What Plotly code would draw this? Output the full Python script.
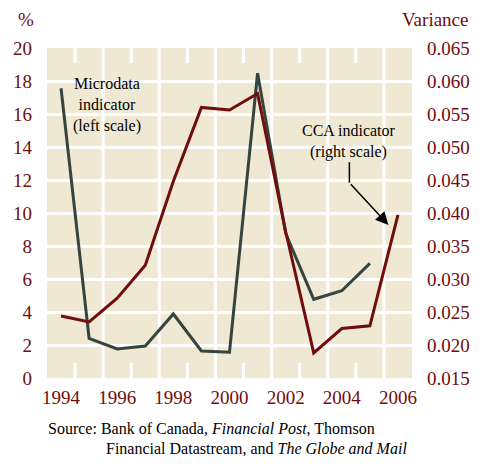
import plotly.graph_objects as go

# years and values
years = [1994, 1995, 1996, 1997, 1998, 1999, 2000, 2001, 2002, 2003, 2004, 2005, 2006]
microdata = [17.56, 2.40, 1.76, 1.94, 3.88, 1.64, 1.56, 18.47, 8.77, 4.77, 5.29, 6.95, None]
cca = [0.0244, 0.0235, 0.0271, 0.0321, 0.0448, 0.0560, 0.0556, 0.0581,
       0.0372, 0.0188, 0.0225, 0.0229, 0.0397]

left_ticks = list(range(0, 21, 2))
right_ticks = [0.015, 0.020, 0.025, 0.030, 0.035, 0.040, 0.045, 0.050, 0.055, 0.060, 0.065]
x_ticks = [1994, 1996, 1998, 2000, 2002, 2004, 2006]

RED = "#700d0d"
GREY = "#36443f"
BEIGE = "#efe9d4"
FONT = "Liberation Serif"

fig = go.Figure()
fig.add_trace(go.Scatter(x=years, y=microdata, mode="lines",
                         line=dict(color=GREY, width=3), yaxis="y"))
fig.add_trace(go.Scatter(x=years, y=cca, mode="lines",
                         line=dict(color=RED, width=3), yaxis="y2"))

# vertical white grid: full lines every other year boundary, short ticks in between
shapes = []
for b in [1995.5, 1997.5, 1999.5, 2001.5, 2003.5, 2005.5]:
    shapes.append(dict(type="line", xref="x", yref="paper", x0=b, x1=b, y0=0, y1=1,
                       line=dict(color="white", width=3), layer="below"))
for b in [1994.5, 1996.5, 1998.5, 2000.5, 2002.5, 2004.5]:
    for y0, y1 in [(0, 15 / 330), (1 - 15 / 330, 1)]:
        shapes.append(dict(type="line", xref="x", yref="paper", x0=b, x1=b, y0=y0, y1=y1,
                           line=dict(color="white", width=3), layer="below"))

fig.update_layout(
    width=482, height=470,
    margin=dict(l=47, r=62, t=48, b=92),
    paper_bgcolor="white",
    plot_bgcolor=BEIGE,
    showlegend=False,
    font=dict(family=FONT, color=RED, size=19),
    shapes=shapes,
    xaxis=dict(range=[1993.5, 2006.5], tickvals=x_ticks, showgrid=False,
               zeroline=False, ticks="", ticklabelstandoff=6),
    yaxis=dict(range=[0, 20], tickvals=left_ticks, showgrid=True, gridcolor="white",
               gridwidth=3, zeroline=False, ticks="", ticklabelstandoff=14),
    yaxis2=dict(range=[0.015, 0.065], tickvals=right_ticks, tickformat=".3f",
                overlaying="y", side="right", showgrid=False, zeroline=False,
                ticks="", ticklabelstandoff=14),
)

# pixel helpers for paper coords (plot area 373 x 330 at left 47, top 48)
def px(x):
    return (x - 47) / 373


def py(y):
    return (378 - y) / 330


fig.add_annotation(text="%", xref="paper", yref="paper", x=px(26), y=py(20),
                   xanchor="center", yanchor="middle", showarrow=False,
                   font=dict(size=19, color=RED))
fig.add_annotation(text="Variance", xref="paper", yref="paper", x=px(479), y=py(20),
                   xanchor="right", yanchor="middle", showarrow=False,
                   font=dict(size=19, color=RED))
fig.add_annotation(text="Microdata<br>indicator<br>(left scale)", x=1995.64, y=16.55,
                   xref="x", yref="y", xanchor="center", yanchor="middle",
                   showarrow=False, font=dict(size=16, color="black"))
fig.add_annotation(text="CCA indicator<br>(right scale)", x=2004.27, y=0.0509,
                   xref="x", yref="y2", xanchor="center", yanchor="middle",
                   showarrow=False, font=dict(size=16, color="black"))
# arrow: vertical drop then diagonal to the CCA line
fig.add_shape(type="line", xref="x", yref="y2", x0=2004.27, x1=2004.27,
              y0=0.0477, y1=0.0446, line=dict(color="black", width=1.5))
fig.add_annotation(x=2005.66, y=0.0382, xref="x", yref="y2", ax=2004.27, ay=0.0446,
                   axref="x", ayref="y2", text="", showarrow=True, arrowhead=2,
                   arrowsize=1.7, arrowwidth=1.5, arrowcolor="black")
fig.add_annotation(text="Source: Bank of Canada, <i>Financial Post</i>, Thomson",
                   xref="paper", yref="paper", x=px(46), y=py(428), xanchor="left",
                   yanchor="middle", showarrow=False, font=dict(size=16, color="black"))
fig.add_annotation(text="Financial Datastream, and <i>The Globe and Mail</i>",
                   xref="paper", yref="paper", x=px(105), y=py(448), xanchor="left",
                   yanchor="middle", showarrow=False, font=dict(size=16, color="black"))

fig.write_html("out.html", config={"displayModeBar": False},
               post_script="document.body.style.margin='0';")
